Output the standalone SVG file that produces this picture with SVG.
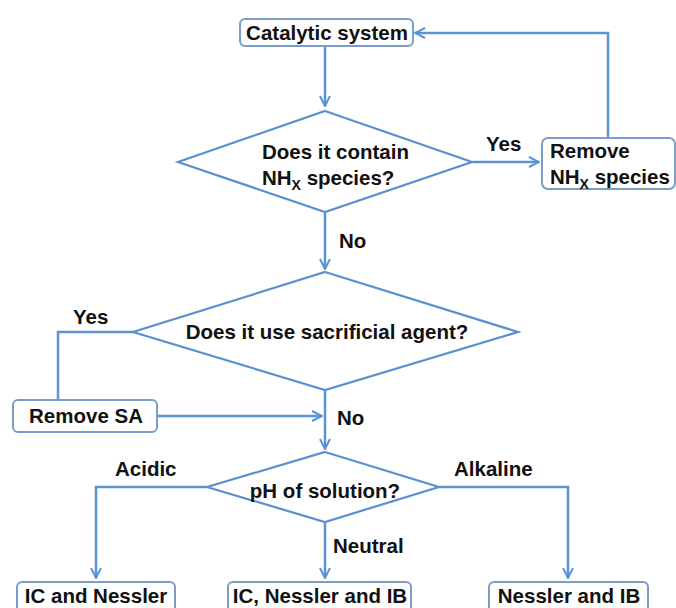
<svg xmlns="http://www.w3.org/2000/svg" width="676" height="608" viewBox="0 0 676 608">
<style>
.box{fill:#fff;stroke:#7c9cc6;stroke-width:2}
.dia{fill:#fff;stroke:#5b8fd0;stroke-width:2.2}
.ln{fill:none;stroke:#5b93d3;stroke-width:2.5}
.t{font-family:"Liberation Sans",Arial,sans-serif;font-weight:bold;font-size:20.5px;fill:#111}
.sub{font-size:14px}
</style>
<defs>
<marker id="arr" viewBox="0 0 10 10" refX="9" refY="5" markerWidth="5" markerHeight="5" orient="auto" markerUnits="strokeWidth">
<polyline points="1,1 9,5 1,9" fill="none" stroke="#5b93d3" stroke-width="1.6"/>
</marker>
</defs>
<rect width="676" height="608" fill="#fff"/>
<g id="connectors">
<line class="ln" x1="325" y1="47" x2="325" y2="106" marker-end="url(#arr)"/>
<line class="ln" x1="473" y1="162" x2="539" y2="162" marker-end="url(#arr)"/>
<polyline class="ln" points="608,139 608,33 415,33" marker-end="url(#arr)"/>
<line class="ln" x1="325" y1="212" x2="325" y2="269" marker-end="url(#arr)"/>
<polyline class="ln" points="133,332 58,332 58,399"/>
<line class="ln" x1="158" y1="416" x2="322" y2="416" marker-end="url(#arr)"/>
<line class="ln" x1="325" y1="390" x2="325" y2="449" marker-end="url(#arr)"/>
<polyline class="ln" points="207,487 96,487 96,578" marker-end="url(#arr)"/>
<line class="ln" x1="325" y1="522" x2="325" y2="578" marker-end="url(#arr)"/>
<polyline class="ln" points="439,487 568,487 568,578" marker-end="url(#arr)"/>
<text class="t" x="486" y="151">Yes</text>
<text class="t" x="339" y="248">No</text>
<text class="t" x="73" y="324">Yes</text>
<text class="t" x="337" y="425">No</text>
<text class="t" x="115" y="476">Acidic</text>
<text class="t" x="454" y="476">Alkaline</text>
<text class="t" x="333" y="553">Neutral</text>
</g>
<g id="catalytic">
<rect class="box" x="240" y="19" width="173" height="27" rx="5"/>
<text class="t" x="327" y="40" text-anchor="middle">Catalytic system</text>
</g>
<g id="q1">
<polygon class="dia" points="325,111 472,162 325,212 178,162"/>
<text class="t" x="262" y="159">Does it contain</text>
<text class="t" x="262" y="185">NH<tspan class="sub" dy="5">X</tspan><tspan dy="-5"> species?</tspan></text>
</g>
<g id="removeNH">
<rect class="box" x="542" y="138" width="133" height="51" rx="6"/>
<text class="t" x="550" y="158">Remove</text>
<text class="t" x="550" y="184">NH<tspan class="sub" dy="5">X</tspan><tspan dy="-5"> species</tspan></text>
</g>
<g id="q2">
<polygon class="dia" points="325,272 518,332 325,390 133,332"/>
<text class="t" x="327" y="339" text-anchor="middle">Does it use sacrificial agent?</text>
</g>
<g id="removeSA">
<rect class="box" x="13" y="400" width="144" height="32" rx="5"/>
<text class="t" x="86" y="423" text-anchor="middle">Remove SA</text>
</g>
<g id="q3">
<polygon class="dia" points="325,452 439,487 325,522 207,487"/>
<text class="t" x="325" y="498" text-anchor="middle">pH of solution?</text>
</g>
<g id="acidic">
<rect class="box" x="17" y="582" width="158" height="34" rx="5"/>
<text class="t" x="96" y="603" text-anchor="middle">IC and Nessler</text>
</g>
<g id="neutral">
<rect class="box" x="228" y="582" width="183" height="34" rx="5"/>
<text class="t" x="320" y="603" text-anchor="middle">IC, Nessler and IB</text>
</g>
<g id="alkaline">
<rect class="box" x="489" y="582" width="159" height="34" rx="5"/>
<text class="t" x="569" y="603" text-anchor="middle">Nessler and IB</text>
</g>
</svg>
